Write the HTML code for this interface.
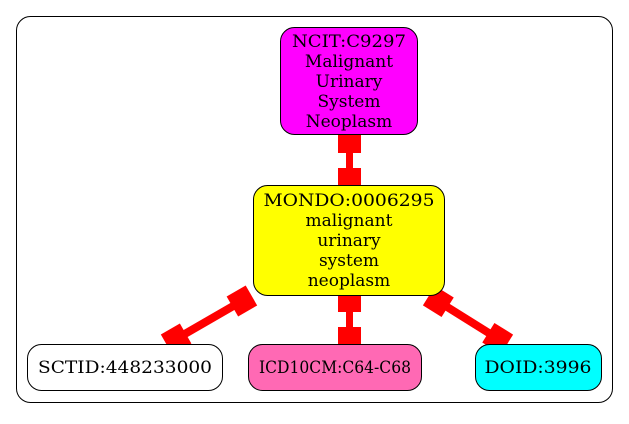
<!DOCTYPE html>
<html><head><style>
body{margin:0;background:#fff}
svg text{font-family:"DejaVu Serif",serif;font-size:17px;text-anchor:middle}
</style></head><body>
<svg width="629" height="419" xmlns="http://www.w3.org/2000/svg">
<rect x="16.5" y="16.5" width="596" height="386" rx="14" fill="#fff" stroke="#000"/>
<g fill="red" stroke="none">
<rect x="346" y="140" width="7" height="40"/>
<rect x="338" y="131" width="23" height="22"/>
<rect x="338" y="168" width="23" height="23"/>
<rect x="346" y="296" width="7" height="45"/>
<rect x="338" y="290" width="23" height="22"/>
<rect x="338" y="327" width="23" height="23"/>
<g transform="translate(209,320) rotate(-30)">
<rect x="-44" y="-4" width="88" height="8"/>
<rect x="27" y="-11.5" width="22" height="23"/>
<rect x="-49" y="-11.5" width="22" height="23"/>
</g>
<g transform="translate(468,320) rotate(32)">
<rect x="-42" y="-4" width="84" height="8"/>
<rect x="-46" y="-11.5" width="22" height="23"/>
<rect x="24" y="-11.5" width="22" height="23"/>
</g>
</g>
<rect x="280.5" y="27.5" width="137" height="107" rx="14" fill="#ff00ff" stroke="#000"/>
<text x="349" y="47" textLength="114" lengthAdjust="spacingAndGlyphs">NCIT:C9297</text>
<text x="349" y="67">Malignant</text>
<text x="349" y="87">Urinary</text>
<text x="349" y="107">System</text>
<text x="349" y="127">Neoplasm</text>
<rect x="253.5" y="185.5" width="191" height="110" rx="14" fill="#ffff00" stroke="#000"/>
<text x="349" y="206" textLength="171" lengthAdjust="spacingAndGlyphs">MONDO:0006295</text>
<text x="349" y="226">malignant</text>
<text x="349" y="246">urinary</text>
<text x="349" y="266">system</text>
<text x="349" y="286">neoplasm</text>
<rect x="27.5" y="344.5" width="195" height="46" rx="14" fill="#fff" stroke="#000"/>
<text x="125" y="373" textLength="174" lengthAdjust="spacingAndGlyphs">SCTID:448233000</text>
<rect x="248.5" y="344.5" width="173" height="46" rx="14" fill="#ff69b4" stroke="#000"/>
<text x="335" y="373" textLength="152" lengthAdjust="spacingAndGlyphs">ICD10CM:C64-C68</text>
<rect x="475.5" y="344.5" width="126" height="46" rx="14" fill="#00ffff" stroke="#000"/>
<text x="538" y="373" textLength="107" lengthAdjust="spacingAndGlyphs">DOID:3996</text>
</svg>
</body></html>
